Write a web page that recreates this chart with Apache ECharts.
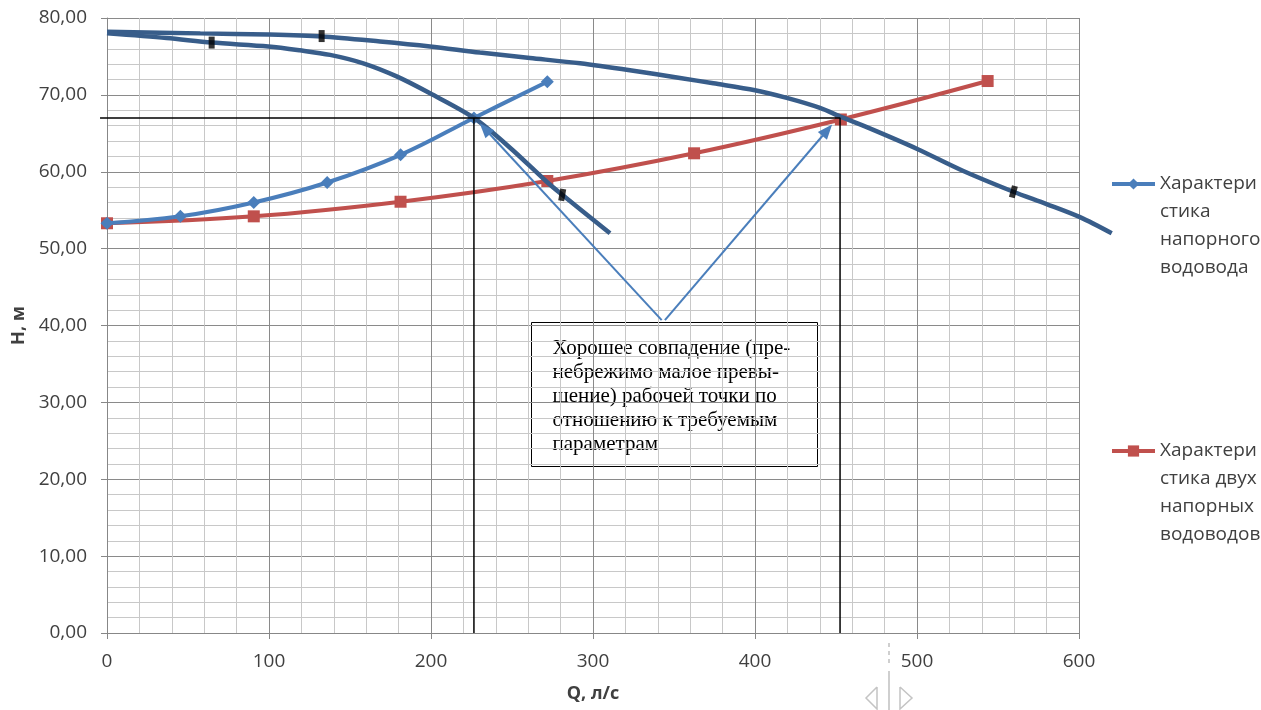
<!DOCTYPE html>
<html><head><meta charset="utf-8">
<script src="https://cdn.jsdelivr.net/npm/echarts@6/dist/echarts.min.js"></script>
<style>html,body{margin:0;padding:0;background:#fff}#c{width:1261px;height:710px}</style>
</head><body><div id="c"></div>
<script>
// ---- data ----
const seriesNames = ['Характеристика напорного водовода', 'Характеристика двух напорных водоводов'];
const legendTexts = ['Характери\nстика\nнапорного\nводовода', 'Характери\nстика двух\nнапорных\nводоводов'];
const qSingle = [0, 45.3, 90.6, 135.9, 181.2, 226.5, 271.8];
const hSingle = [53.3, 54.2, 56.0, 58.6, 62.2, 67.0, 71.7];
const qDouble = [0, 90.6, 181.2, 271.8, 362.4, 453.0, 543.6];
const hDouble = [53.3, 54.2, 56.1, 58.8, 62.4, 66.8, 71.8];
const pumpOneQ = [0, 36.8, 64.6, 99.6, 119, 137.7, 158.2, 178.8, 199.4, 226.5, 250, 271.4, 281, 310.5];
const pumpOneH = [78.0, 77.4, 76.8, 76.3, 75.8, 75.2, 74.1, 72.4, 70.2, 67.0, 62.9, 58.7, 57.0, 52.0];
const pumpTwoQ = [0, 57.6, 99.6, 132.5, 168.5, 199.4, 230.2, 261.1, 292, 322.8, 353.7, 374.3, 400, 419.6, 440.1, 453.5, 469, 499.8, 528.6, 559.5, 580, 600.6, 620.2];
const pumpTwoH = [78.2, 78.0, 77.85, 77.6, 76.95, 76.3, 75.5, 74.8, 74.1, 73.2, 72.2, 71.5, 70.6, 69.6, 68.3, 67.1, 65.8, 63.0, 60.1, 57.4, 55.8, 54.1, 52.0];
const zoneQ = [64.6, 132.5, 281.0, 559.5];
const zoneH = [76.8, 77.65, 57.0, 57.4];
const workQ = [226.5, 452.5];
const workH = 67.0;
const arrowFrom = [[342.4, 40.7], [344.4, 40.7]];
const arrowTo = [[233.2, 65.6], [444.6, 65.4]];
const noteText = 'Хорошее совпадение (пре-\nнебрежимо малое превы-\nшение) рабочей точки по\nотношению к требуемым\nпараметрам';
const xMin = 0, xMax = 600, xStep = 100;
const yMin = 0, yMax = 80, yStep = 10;
const xOverMin = -5, xOverMax = 620;

// ---- build ----
const pairs = (qs, hs) => qs.map((q, i) => [q, hs[i]]);
const FONT = 'Open Sans';
const TXT = '#404040';
const zoneRot = [0, 0, -10, -15];
const G = {left: 107, top: 18, width: 972, height: 615};
const pxPerQ = G.width / (xMax - xMin);

const chart = echarts.init(document.getElementById('c'), null, {renderer: 'canvas'});
const axisCommon = {
  axisLine: {show: true, lineStyle: {color: '#878787', width: 1}},
  axisTick: {show: true, length: 6, lineStyle: {color: '#878787'}},
  splitLine: {show: true, lineStyle: {color: '#8a8a8a', width: 1}},
  minorTick: {show: false, splitNumber: 5},
  minorSplitLine: {show: true, lineStyle: {color: '#c8c8c8', width: 1}}
};
const legendCommon = {
  orient: 'vertical', padding: 0, itemWidth: 43, itemHeight: 14, selectedMode: false,
  lineStyle: {width: 4},
  textStyle: {fontFamily: FONT, fontSize: 19, color: TXT, lineHeight: 28},
  formatter: name => '\n\n\n' + legendTexts[seriesNames.indexOf(name)]
};
const option = {
  animation: false,
  backgroundColor: '#fff',
  grid: [
    Object.assign({containLabel: false}, G),
    {containLabel: false, top: G.top, height: G.height,
      left: G.left + (xOverMin - xMin) * pxPerQ, width: (xOverMax - xOverMin) * pxPerQ}
  ],
  legend: [
    Object.assign({}, legendCommon, {left: 1110, top: 86, data: [seriesNames[0]]}),
    Object.assign({}, legendCommon, {left: 1110, top: 353, data: [seriesNames[1]]})
  ],
  xAxis: [
    Object.assign({}, axisCommon, {
      type: 'value', min: xMin, max: xMax, interval: xStep, gridIndex: 0,
      name: 'Q, л/с', nameLocation: 'middle', nameGap: 52,
      nameTextStyle: {fontFamily: FONT, fontSize: 18, fontWeight: 'bold', color: TXT},
      axisLabel: {fontFamily: FONT, fontSize: 19, color: TXT, margin: 19}
    }),
    {type: 'value', min: xOverMin, max: xOverMax, gridIndex: 1, show: false}
  ],
  yAxis: [
    Object.assign({}, axisCommon, {
      type: 'value', min: yMin, max: yMax, interval: yStep, gridIndex: 0,
      name: 'H, м', nameLocation: 'middle', nameGap: 78,
      nameTextStyle: {fontFamily: FONT, fontSize: 18, fontWeight: 'bold', color: TXT},
      axisLabel: {fontFamily: FONT, fontSize: 19, color: TXT, margin: 20,
        formatter: v => v.toFixed(2).replace('.', ',')}
    }),
    {type: 'value', min: yMin, max: yMax, gridIndex: 1, show: false}
  ],
  series: [
    {name: seriesNames[1], type: 'line', data: pairs(qDouble, hDouble), smooth: 0.4,
      symbol: 'rect', symbolSize: 12, itemStyle: {color: '#C0504D'},
      lineStyle: {color: '#C0504D', width: 4}, z: 2},
    {name: seriesNames[0], type: 'line', data: pairs(qSingle, hSingle), smooth: 0.4,
      symbol: 'diamond', symbolSize: 13, itemStyle: {color: '#4A7EBB'},
      lineStyle: {color: '#4A7EBB', width: 4}, z: 3},
    {name: 'pump1', type: 'line', data: pairs(pumpOneQ, pumpOneH), smooth: 0.3, symbol: 'none',
      lineStyle: {color: '#385D8A', width: 4.5}, z: 4, silent: true},
    {name: 'pump2', type: 'line', xAxisIndex: 1, yAxisIndex: 1, data: pairs(pumpTwoQ, pumpTwoH),
      smooth: 0.3, symbol: 'none', lineStyle: {color: '#385D8A', width: 4.5}, z: 4, silent: true},
    {name: 'work', type: 'line', xAxisIndex: 1, yAxisIndex: 1, symbol: 'none', silent: true, z: 5,
      lineStyle: {color: '#000', width: 1.5},
      data: [[-4.3, workH], [workQ[0], workH], [workQ[0], yMin], [workQ[0], workH], [workQ[1], workH], [workQ[1], yMin]],
      markLine: {
        silent: true, symbol: ['none', 'triangle'], symbolSize: [12, 15],
        label: {show: false},
        lineStyle: {color: '#4A7EBB', width: 2, type: 'solid'},
        data: arrowFrom.map((f, i) => [{coord: f}, {coord: arrowTo[i]}])
      }},
    {name: 'zones', type: 'scatter', xAxisIndex: 1, yAxisIndex: 1, symbol: 'rect', symbolSize: [6, 12],
      silent: true, z: 6, itemStyle: {color: '#000'},
      data: zoneQ.map((q, i) => ({value: [q, zoneH[i]], symbolRotate: zoneRot[i]}))}
  ],
  graphic: [
    {type: 'group', left: 531, top: 322, z: 100, children: [
      {type: 'rect', shape: {x: 0, y: 0, width: 286, height: 144},
        style: {fill: '#fff', stroke: '#000', lineWidth: 1}},
      {type: 'text', x: 21, y: 14, style: {text: noteText, fontFamily: 'Liberation Serif',
        fontSize: 21, lineHeight: 24, fill: '#000'}}
    ]},
    {type: 'line', shape: {x1: 889, y1: 643, x2: 889, y2: 667}, style: {stroke: '#cfcfcf', lineWidth: 2, lineDash: [4, 4]}},
    {type: 'line', shape: {x1: 889, y1: 671, x2: 889, y2: 710}, style: {stroke: '#cfcfcf', lineWidth: 2}},
    {type: 'polyline', shape: {points: [[877, 687], [866, 698], [877, 709], [877, 687]]}, style: {stroke: '#c4c4c4', lineWidth: 1.5, fill: null}},
    {type: 'polyline', shape: {points: [[900, 687], [912, 698], [900, 709], [900, 687]]}, style: {stroke: '#c4c4c4', lineWidth: 1.5, fill: null}}
  ]
};
chart.setOption(option);
</script>
</body></html>
